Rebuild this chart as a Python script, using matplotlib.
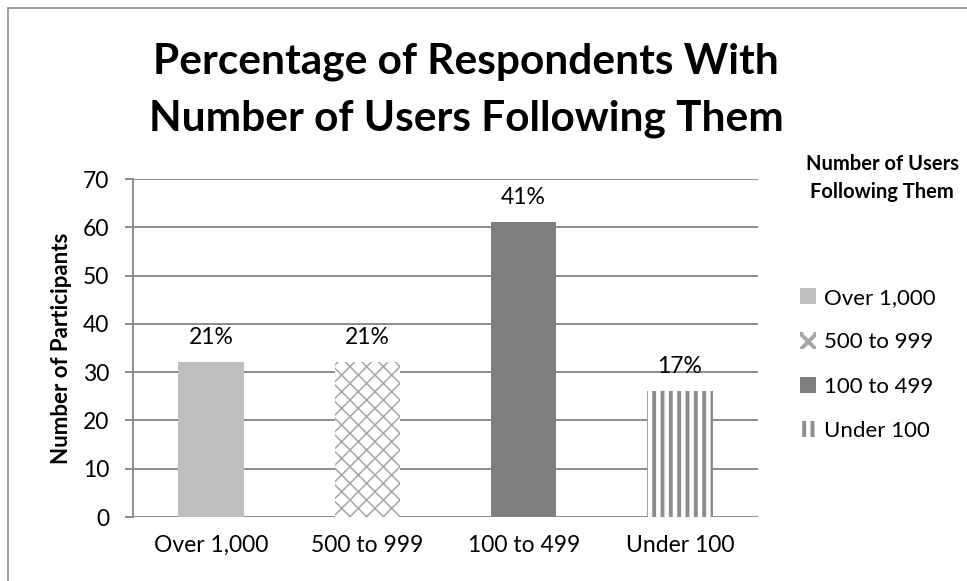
import matplotlib.pyplot as plt
import matplotlib as mpl
from matplotlib.patches import Rectangle, Patch

categorias = ['Over 1,000', '500 to 999', '100 to 499', 'Under 100']
participantes = [32, 32, 61, 26]
porcentagens = ['21%', '21%', '41%', '17%']

plt.rcParams['font.family'] = ['Lato', 'DejaVu Sans']

cores = ['#bfbfbf', 'white', '#7f7f7f', 'white']
hachuras = [None, 'xx', None, '||']
cor_hachura = [None, '#a6a6a6', None, '#8c8c8c']
larg_hachura = [1.0, 1.1, 1.0, 2.8]

fig = plt.figure(figsize=(9.67, 5.81), dpi=100)
ax = fig.add_axes([133/967, 1 - 517/581, 625/967, 338/581])

for i, cat in enumerate(categorias):
    mpl.rcParams['hatch.linewidth'] = larg_hachura[i]
    b = ax.bar(i, participantes[i], width=0.42, color=cores[i],
               hatch=hachuras[i], edgecolor=cor_hachura[i] or cores[i],
               linewidth=0, zorder=3)
    for p in b:
        if hasattr(p, 'set_hatch_linewidth'):
            p.set_hatch_linewidth(larg_hachura[i])

for i, txt in enumerate(porcentagens):
    ax.text(i, participantes[i] + 5.1, txt, ha='center', va='center', fontsize=16.5)

ax.set_xlim(-0.5, 3.5)
ax.set_ylim(0, 70)
ax.set_yticks(range(0, 71, 10))
ax.set_xticks(range(4))
ax.set_xticklabels(categorias, fontsize=16.5)
ax.tick_params(axis='y', labelsize=16.5, length=6, color='#8c8c8c', width=1.4, pad=11)
ax.tick_params(axis='x', length=0, pad=13)
ax.yaxis.grid(True, color='#8c8c8c', linewidth=1.4, zorder=0)
ax.set_axisbelow(True)
for s in ['top', 'right', 'bottom']:
    ax.spines[s].set_visible(False)
ax.spines['left'].set_color('#8c8c8c')
ax.spines['left'].set_linewidth(1.4)
ax.set_ylabel('Number of Participants', fontsize=16, fontweight='bold', labelpad=8)

fig.text(466/967, 1 - 90/581, 'Percentage of Respondents With\nNumber of Users Following Them',
         ha='center', va='center', fontsize=30.5, fontweight='bold', linespacing=1.6)

fig.text(882/967, 1 - 178/581, 'Number of Users\nFollowing Them', ha='center', va='center',
         fontsize=14.5, fontweight='bold', linespacing=1.5)

handles = []
for i, cat in enumerate(categorias):
    mpl.rcParams['hatch.linewidth'] = larg_hachura[i]
    h = Patch(facecolor=cores[i], hatch=hachuras[i],
              edgecolor=cor_hachura[i] or cores[i], linewidth=0, label=cat)
    handles.append(h)
leg = fig.legend(handles=handles, loc='upper left', bbox_to_anchor=(782/967, 1 - 270/581),
                 frameon=False, fontsize=16, handlelength=0.75, handleheight=0.75,
                 handletextpad=0.35, labelspacing=1.1, borderpad=0.3)

fig.patches.append(Rectangle((8/967, -0.01), 1, 1 - 8/581 + 0.01, transform=fig.transFigure,
                             fill=False, edgecolor='#8c8c8c', linewidth=1.2))

fig.savefig('out.png', dpi=100)
